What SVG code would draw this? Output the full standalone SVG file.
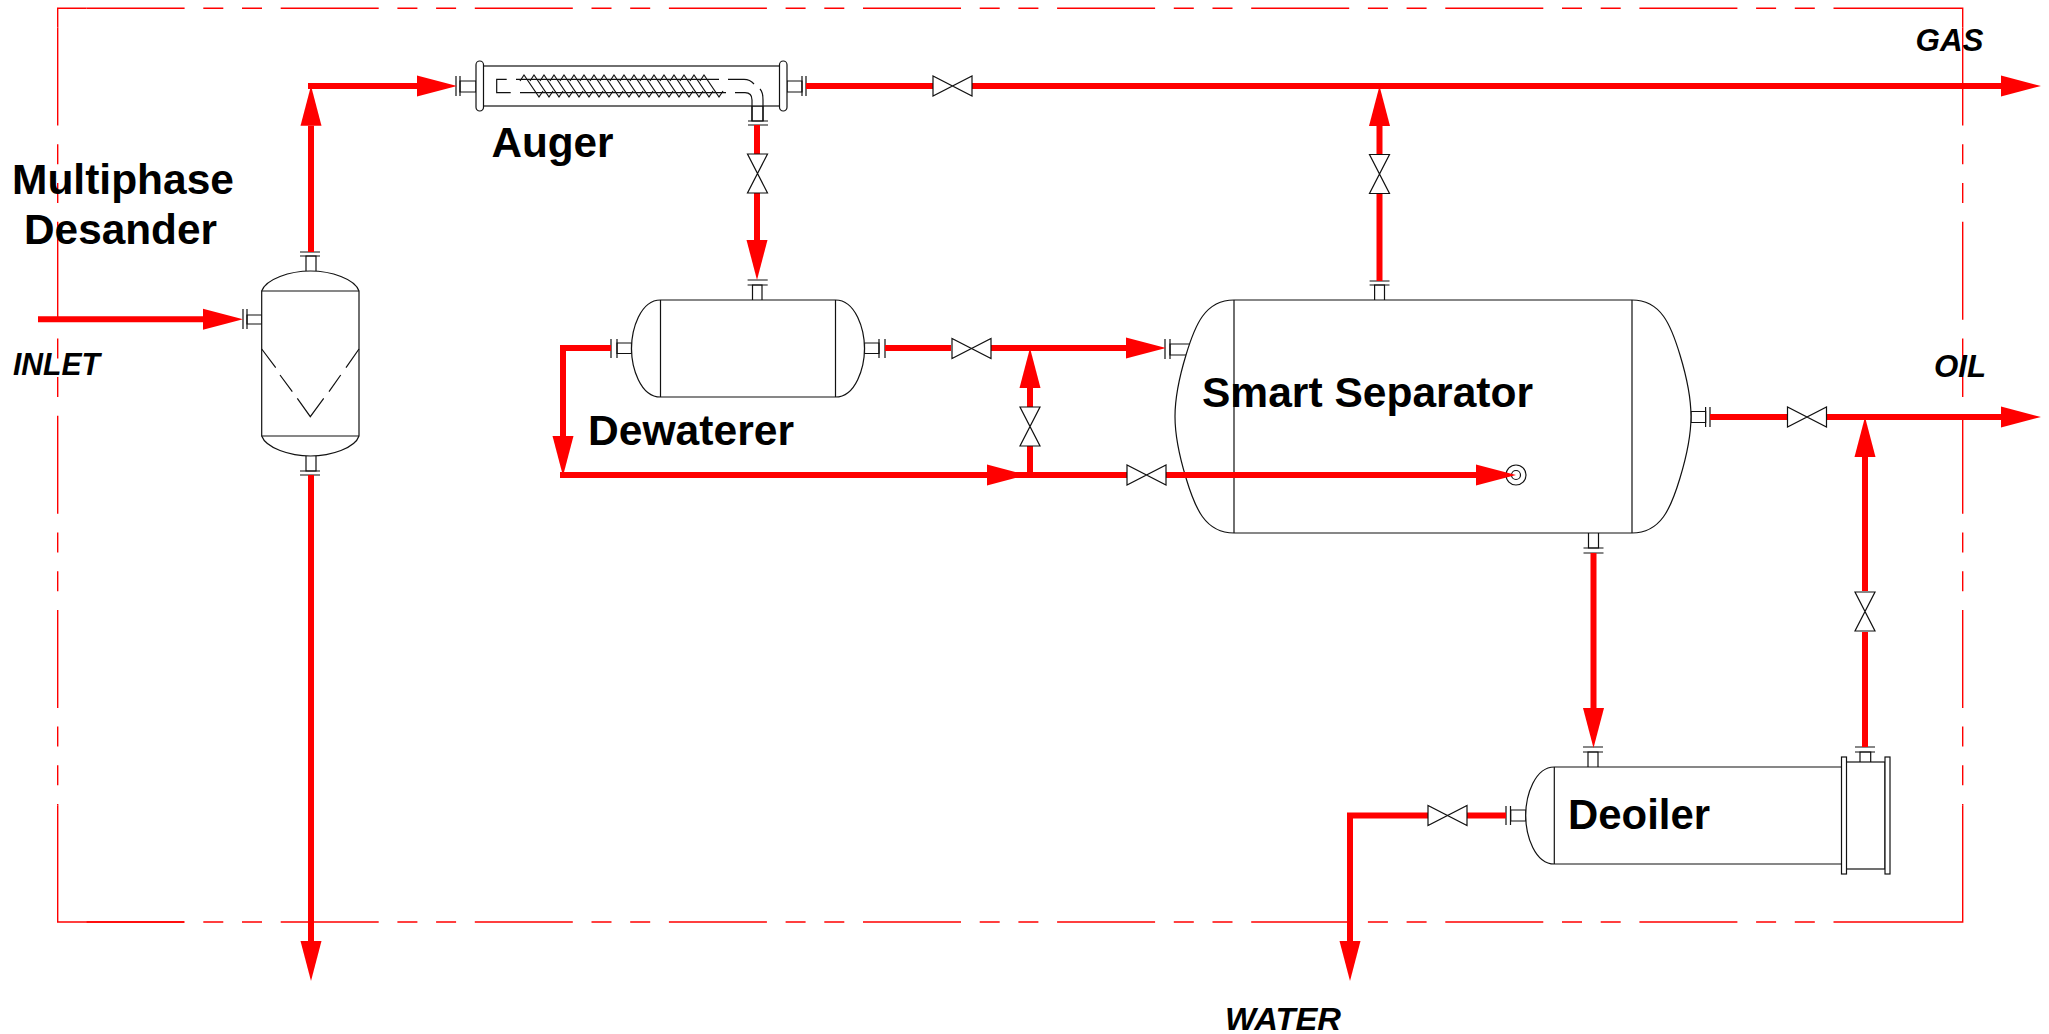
<svg xmlns="http://www.w3.org/2000/svg" xmlns:xlink="http://www.w3.org/1999/xlink" width="2049" height="1034" viewBox="0 0 2049 1034">
<style>
.v{fill:#fff;stroke:#111;stroke-width:1.2}
.l{fill:none;stroke:#111;stroke-width:1.2}
.b{fill:none;stroke:#f00;stroke-width:1.4}
.d{fill:none;stroke:#f00;stroke-width:1.4;stroke-dasharray:98 18.7 20 18.7 20 18.7}
.p{fill:none;stroke:#f00;stroke-width:6}
.a{marker-end:url(#arrow)}
text{font-family:"Liberation Sans",Arial,sans-serif;font-weight:700;fill:#000}
.t{font-size:43px}
.i{font-size:31px;font-style:italic}
</style>
<defs>
<marker id="arrow" markerUnits="userSpaceOnUse" markerWidth="41" markerHeight="22" refX="0" refY="11" orient="auto" overflow="visible"><path d="M0 .5L40 11L0 21.5Z" fill="#f00"/></marker>
<path id="valve" class="v" d="M-19.5 -10V10L19.5 -10V10Z"/>
</defs>
<rect width="2049" height="1034" fill="#fff"/>
<g id="boundary">
<path class="b" d="M86.6 8.3H57.7V27.6M1836 8.3H1962.7V27.6M57.7 805.2V922H184M1836 922H1962.7V805.2"/>
<path class="d" d="M86.6 8.3H1836M86.6 922H1836M57.7 27.6V805.2M1962.7 27.6V805.2"/>
</g>
<g id="desander">
<path class="v" d="M306 271V256H316V271M306 456V471H316V456M247 315H262V324H247Z"/>
<path class="l" d="M300 252H320M300 256H320M300 471H320M300 475H320M243 309V329M247 309V329"/>
<path class="v" d="M261.7 291C266 279 290 271 310.5 271C331 271 355 279 359 291V436C355 448 331 456 310.5 456C290 456 266 448 261.7 436Z"/>
<path class="l" d="M261.7 291H359M261.7 436H359M261.7 349L275.7 367.7M280 375L292.3 391.7M297.3 398.3L310.3 416.7L323.7 398.3M329 391.7L340.7 375M346 367.7L359 349"/>
</g>
<g id="auger">
<path class="v" d="M460 81H476V92H460ZM787 81H802V92H787ZM752 106V121H763V106Z"/>
<path class="l" d="M456 76V96M460 76V96M802 76V96M806 76V96M748 121H768M748 125H768"/>
<rect class="v" x="483" y="66" width="297" height="40"/>
<rect class="v" x="476" y="61" width="7.5" height="50" rx="3.7"/>
<rect class="v" x="779.5" y="61" width="7.5" height="50" rx="3.7"/>
<path class="l" d="M506.7 79.3H496.7V92.7H510.7M516 79.3H719M520 92.7H726M728 79.3H744Q750 79.3 754 84M760 89Q763 92 763 100V121M735 92.7H745Q752 92.7 752 100V121"/>
<path class="l" d="M520 81l4-6 15 22 4-6M530 81l4-6 15 22 4-6M540 81l4-6 15 22 4-6M550 81l4-6 15 22 4-6M560 81l4-6 15 22 4-6M570 81l4-6 15 22 4-6M580 81l4-6 15 22 4-6M590 81l4-6 15 22 4-6M600 81l4-6 15 22 4-6M610 81l4-6 15 22 4-6M620 81l4-6 15 22 4-6M630 81l4-6 15 22 4-6M640 81l4-6 15 22 4-6M650 81l4-6 15 22 4-6M660 81l4-6 15 22 4-6M670 81l4-6 15 22 4-6M680 81l4-6 15 22 4-6M690 81l4-6 15 22 4-6M700 81l4-6 15 22 4-6"/>
</g>
<g id="dewaterer">
<path class="v" d="M752.5 300V285H762V300M617 343H631.5V353.5H617ZM864.5 343H879V353.5H864.5Z"/>
<path class="l" d="M747.6 280H767.7M747.6 285H767.7M611 339V358M617 339V358M879 339V358M885 339V358"/>
<path class="v" d="M660.5 300C640 300 631.5 330 631.5 348.5C631.5 367 640 397 660.5 397H835.5C856 397 864.5 367 864.5 348.5C864.5 330 856 300 835.5 300Z"/>
<path class="l" d="M660.5 300V397M835.5 300V397"/>
</g>
<g id="separator">
<path class="v" d="M1374.6 300V285H1384.5V300M1588.5 533V548H1598.5V533M1170 344H1190V355H1170ZM1691 411.5H1705.6V422.5H1691Z"/>
<path class="l" d="M1369.6 281H1389.5M1369.6 285H1389.5M1583.5 548H1603.5M1583.5 553H1603.5M1165 339V359M1170 339V359M1705.6 407V427M1710 407V427"/>
<path class="v" d="M1234 300C1205 300 1195 325 1186 355C1179 378 1175 400 1175 416.5C1175 433 1179 455 1186 478C1195 508 1205 533 1234 533H1632C1661 533 1671 508 1680 478C1687 455 1691 433 1691 416.5C1691 400 1687 378 1680 355C1671 325 1661 300 1632 300Z"/>
<path class="l" d="M1234 300V533M1632 300V533"/>
<circle class="v" cx="1516" cy="475" r="10"/>
<circle class="v" cx="1516" cy="475" r="4.5"/>
</g>
<g id="deoiler">
<path class="v" d="M1588 767V752H1598V767M1860 762V752H1870.7V762M1510.7 810H1525.7V821H1510.7Z"/>
<path class="l" d="M1583 747H1603M1583 752H1603M1855 747H1875M1855 752H1875M1506 806V825M1510.5 806V825"/>
<path class="v" d="M1554.3 767C1535 767 1525.7 795 1525.7 815.5C1525.7 836 1535 864 1554.3 864H1842V767Z"/>
<path class="l" d="M1554.3 767V864"/>
<rect class="v" x="1846" y="762" width="39" height="107"/>
<rect class="v" x="1841.5" y="757" width="5" height="117"/>
<rect class="v" x="1885" y="757" width="5" height="117"/>
</g>
<g id="connectors">
<path class="p a" d="M38 319.3H203"/>
<path class="p a" d="M311 252V125.7"/>
<path class="p a" d="M308 86H417"/>
<path class="p a" d="M311 475V941"/>
<path class="p" d="M806 86H933"/>
<path class="p a" d="M972 86H2001"/>
<path class="p" d="M757 125V154"/>
<path class="p a" d="M757 193V240"/>
<path class="p" d="M1379.5 281V194"/>
<path class="p a" d="M1379.5 154V126"/>
<path class="p" d="M885 348H951"/>
<path class="p a" d="M991 348H1126"/>
<path class="p a" d="M611 348H563V436"/>
<path class="p a" d="M560 475H987"/>
<path class="p" d="M987 475H1127"/>
<path class="p a" d="M1166 475H1476"/>
<path class="p" d="M1030 475V446"/>
<path class="p a" d="M1030 407V388"/>
<path class="p" d="M1710 417H1787"/>
<path class="p a" d="M1827 417H2001"/>
<path class="p a" d="M1593.5 553V708"/>
<path class="p" d="M1865 747V632"/>
<path class="p a" d="M1865 591V457"/>
<path class="p" d="M1506 815.5H1467"/>
<path class="p a" d="M1428 815.5H1350V941"/>
</g>
<g id="valves">
<use id="valve-gas" href="#valve" xlink:href="#valve" transform="translate(952.5 86)"/>
<use id="valve-auger" href="#valve" xlink:href="#valve" transform="translate(757.5 173.5) rotate(90)"/>
<use id="valve-gas-branch" href="#valve" xlink:href="#valve" transform="translate(1379.5 174) rotate(90)"/>
<use id="valve-dewaterer" href="#valve" xlink:href="#valve" transform="translate(971.5 348.5)"/>
<use id="valve-bypass" href="#valve" xlink:href="#valve" transform="translate(1030 426.5) rotate(90)"/>
<use id="valve-inlet" href="#valve" xlink:href="#valve" transform="translate(1146.5 475)"/>
<use id="valve-oil" href="#valve" xlink:href="#valve" transform="translate(1807 417)"/>
<use id="valve-deoiler-oil" href="#valve" xlink:href="#valve" transform="translate(1865 611.5) rotate(90)"/>
<use id="valve-water" href="#valve" xlink:href="#valve" transform="translate(1447.5 815.5)"/>
</g>
<g id="labels">
<text class="t" x="12" y="193.5" textLength="222" lengthAdjust="spacingAndGlyphs">Multiphase</text>
<text class="t" x="24" y="243.5" textLength="193" lengthAdjust="spacingAndGlyphs">Desander</text>
<text class="t" x="491.5" y="156.7" textLength="122" lengthAdjust="spacingAndGlyphs">Auger</text>
<text class="t" x="588" y="445" textLength="206" lengthAdjust="spacingAndGlyphs">Dewaterer</text>
<text class="t" x="1202" y="407" textLength="331" lengthAdjust="spacingAndGlyphs">Smart Separator</text>
<text class="t" x="1568" y="829" textLength="142" lengthAdjust="spacingAndGlyphs">Deoiler</text>
<text class="i" x="13" y="375" textLength="87" lengthAdjust="spacingAndGlyphs">INLET</text>
<text class="i" x="1915.5" y="51" textLength="68" lengthAdjust="spacingAndGlyphs">GAS</text>
<text class="i" x="1934" y="377" textLength="52" lengthAdjust="spacingAndGlyphs">OIL</text>
<text class="i" x="1225" y="1030" textLength="116" lengthAdjust="spacingAndGlyphs">WATER</text>
</g>
</svg>
